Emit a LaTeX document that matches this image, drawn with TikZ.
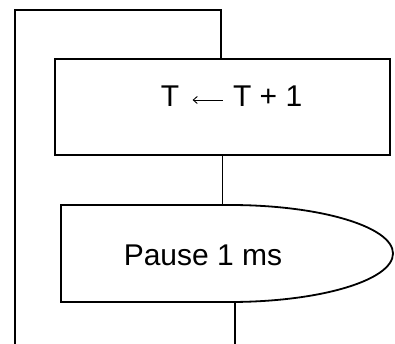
\documentclass[tikz,border=0pt]{standalone}
\usepackage{fontspec}
\setmainfont{Liberation Sans}
\usetikzlibrary{arrows.meta}
\begin{document}
\begin{tikzpicture}[x={(1pt,0pt)},
y={(0pt,-1pt)},
every node/.append style={font=\fontsize{30}{36}\selectfont},
flowline/.style={draw=black, line width=1.8pt}]

\useasboundingbox (0,0) rectangle (395,344);

\coordinate (LoopBottom) at (15,344);
\coordinate (LoopTopLeft) at (15,10);
\coordinate (LoopTopRight) at (221,10);
\coordinate (OutBottom) at (235,344);

\coordinate (PauseNW) at (61,205);
\coordinate (PauseNE) at (230,205);
\coordinate (PauseSW) at (61,302);

\node[flowline, rectangle, minimum width=335pt, minimum height=96pt,
text height=21pt, text depth=21pt] (incr) at (222.5,107)
{\hspace*{18pt}T\hspace{13pt}\tikz[baseline=-7pt]\draw[line width=0.9pt, -{Straight Barb[length=4pt,width=7pt]}] (30pt,0pt) -- (0pt,0pt);\hspace{10pt}T + 1};

\draw[flowline] (PauseNW) -- (PauseNE)
arc[start angle=90, end angle=-90, x radius=163pt, y radius=48.5pt]
-- (PauseSW) -- cycle;
\node (pause) at (203,255) {Pause 1 ms};

\draw[flowline] (LoopBottom) -- (LoopTopLeft) -- (LoopTopRight) -- (LoopTopRight |- incr.north);
\draw[flowline] (incr.south) -- (incr.south |- PauseNW);
\draw[flowline] (PauseSW -| OutBottom) -- (OutBottom);

\end{tikzpicture}
\end{document}
